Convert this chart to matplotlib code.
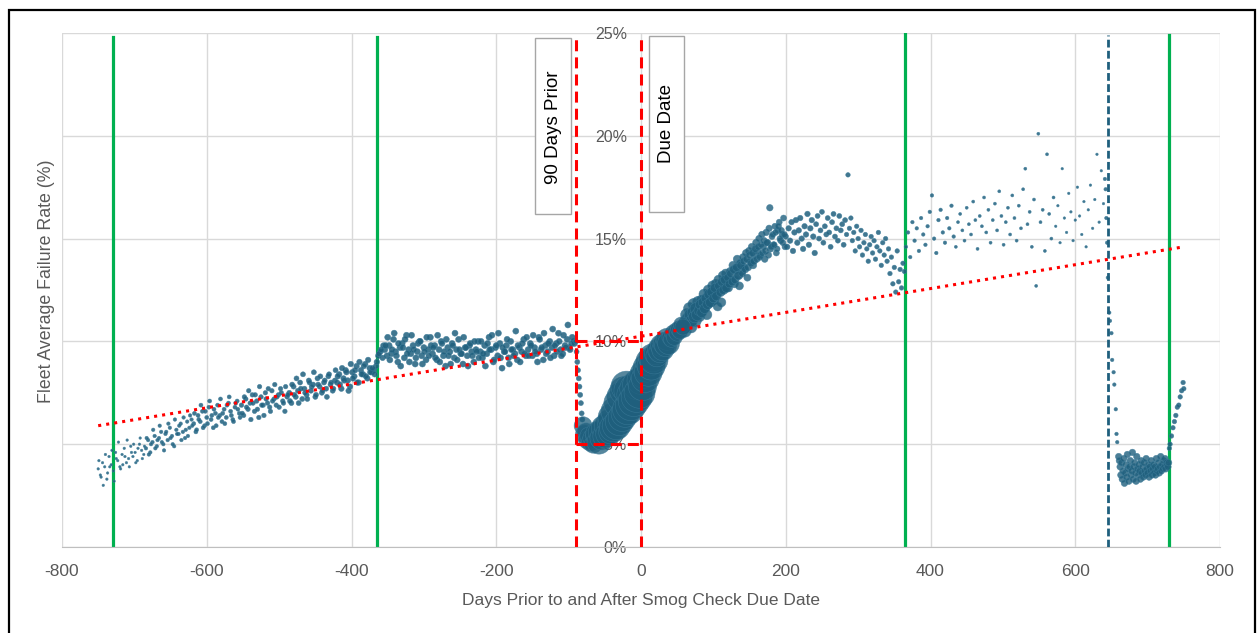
import numpy as np
import matplotlib.pyplot as plt
from matplotlib.patches import Rectangle

plt.rcParams['font.family'] = ['Liberation Sans', 'DejaVu Sans']
plt.rcParams['axes.unicode_minus'] = False

## Dados (dias x taxa de falha %)

## -750 a -93, a cada 3 dias
rate_a = [
    3.8, 3.5, 4.1, 3.9, 3.3, 4.4, 4.0, 3.7, 4.6, 4.2, 3.9, 4.5, 4.8, 4.1, 4.3, 4.9, 4.4, 4.6, 4.2, 5.0, 4.7, 4.5,
    4.8, 5.2, 4.6, 5.1, 5.4, 4.9, 5.3, 5.6, 5.0, 5.5, 5.2, 5.8, 5.4, 4.9, 5.7, 5.5, 6.0, 5.6, 5.3, 6.1, 5.8, 6.2,
    6.0, 5.6, 6.4, 6.1, 6.6, 5.9, 6.3, 6.8, 6.2, 5.8, 6.5, 6.9, 6.4, 6.1, 6.7, 6.3, 7.0, 6.6, 6.2, 6.8, 7.1, 6.5,
    6.9, 6.4, 7.2, 6.7, 7.0, 7.4, 6.6, 7.1, 6.3, 7.3, 6.9, 7.5, 7.0, 6.8, 7.6, 7.2, 6.9, 7.4, 7.7, 7.1, 6.6, 7.3,
    7.5, 7.0, 7.8, 7.3, 7.6, 8.0, 7.2, 7.7, 7.4, 8.1, 7.6, 7.9, 7.3, 8.2, 7.8, 7.5, 8.0, 7.7, 8.3, 7.9, 7.6, 8.1,
    8.0, 8.4, 7.7, 8.2, 8.6, 8.1, 7.8, 8.5, 8.3, 8.8, 8.0, 8.6, 8.4, 8.9, 8.2, 8.7, 8.5, 8.6, 8.8, 9.3, 9.5, 9.2,
    9.6, 9.3, 9.8, 9.4, 10.1, 9.5, 9.0, 9.7, 9.9, 9.2, 10.3, 9.6, 9.4, 9.8, 8.9, 9.5, 10.0, 9.3, 9.7, 9.1, 9.6, 10.2,
    9.4, 9.8, 9.1, 9.6, 10.0, 9.3, 8.8, 9.7, 9.5, 9.9, 9.2, 9.6, 10.1, 9.4, 8.9, 9.7, 9.3, 9.8, 9.5, 9.0, 9.6, 10.0,
    9.5, 9.2, 9.8, 9.4, 10.2, 9.6, 9.0, 9.7, 9.3, 9.9, 8.7, 9.5, 9.8, 9.2, 10.0, 9.6, 9.4, 9.1, 9.7, 9.5, 10.1, 9.3,
    9.6, 9.9, 9.3, 9.7, 9.4, 10.2, 9.6, 9.1, 9.8, 9.5, 10.0, 9.7, 9.3, 9.9, 10.4, 9.6, 9.4, 9.8, 10.1, 9.7, 9.9, 10.0,
]
## -749 a -92, a cada 3 dias (segunda leva de pontos)
rate_a2 = [
    4.2, 3.4, 3.0, 4.5, 3.6, 3.9, 4.7, 3.2, 4.3, 5.1, 3.8, 4.0, 4.4, 5.2, 3.9, 4.6, 5.0, 4.1, 4.8, 5.3, 4.3, 4.9,
    5.3, 4.5, 5.0, 5.7, 4.8, 5.2, 5.9, 5.1, 4.7, 5.6, 6.0, 5.3, 5.0, 6.2, 5.5, 5.9, 5.2, 6.3, 5.7, 5.4, 6.4, 5.9,
    6.5, 5.7, 6.2, 6.9, 5.8, 6.6, 6.0, 7.1, 6.4, 6.7, 5.9, 6.3, 7.2, 6.5, 6.0, 6.9, 7.3, 6.4, 6.1, 7.0, 6.7, 6.3,
    6.5, 7.3, 6.8, 7.6, 6.2, 7.0, 7.4, 6.7, 7.8, 6.9, 6.4, 7.2, 7.7, 6.6, 7.1, 7.9, 7.3, 6.8, 7.5, 7.0, 7.8, 7.4,
    7.1, 7.9, 7.4, 8.2, 7.0, 7.7, 8.4, 7.5, 7.2, 8.0, 7.8, 8.5, 7.4, 7.9, 8.3, 7.6, 8.1, 7.3, 8.4, 8.0, 7.7, 8.6,
    8.3, 7.9, 8.7, 8.1, 8.5, 7.6, 8.9, 8.2, 8.6, 8.0, 9.0, 8.4, 8.8, 8.3, 9.1, 8.5, 8.7, 8.4, 9.0, 9.4, 9.6, 9.8,
    9.8, 10.2, 9.1, 9.6, 10.4, 9.3, 9.9, 8.8, 9.7, 10.1, 9.4, 9.0, 10.3, 9.6, 9.2, 9.9, 10.0, 8.9, 9.5, 10.2, 9.3, 9.8,
    9.7, 9.2, 10.3, 9.0, 9.9, 9.5, 10.1, 9.3, 8.9, 9.8, 10.4, 9.1, 9.6, 9.4, 10.2, 9.7, 8.8, 9.9, 9.3, 10.0, 9.5, 9.2,
    10.0, 9.4, 8.8, 9.9, 9.6, 10.3, 9.1, 9.8, 10.4, 9.2, 9.7, 9.5, 10.1, 8.9, 9.6, 9.3, 10.5, 9.8, 9.0, 9.9, 9.4, 10.2,
    9.3, 9.8, 10.3, 9.5, 9.0, 10.1, 9.7, 10.4, 9.4, 9.9, 9.2, 10.6, 9.8, 9.5, 10.0, 9.3, 10.3, 9.7, 10.8, 9.6, 10.2, 9.9,
]
size_a = [2.5, 3.5, 4, 4.5, 5, 5.5, 6, 6, 6, 6]  ## diametro (px) por bloco

## queda logo depois de -90 (diario)
rate_b = [10.0, 9.5, 9.0, 8.6, 8.2, 7.8, 7.4, 7.0, 6.5, 6.2]
size_b = [5]

## bolhas grandes, -80 a 58 a cada 2 dias
rate_c = [
    5.9, 5.5, 5.6, 5.2, 5.4, 5.1, 5.3, 5.0, 5.4, 5.2,
    5.5, 5.1, 5.6, 5.3, 5.8, 5.4, 5.9, 5.5, 6.1, 5.6,
    6.3, 5.8, 6.6, 5.9, 7.0, 6.1, 7.3, 6.3, 7.6, 6.5,
    7.8, 6.7, 7.6, 6.9, 7.4, 7.1, 7.7, 7.3, 7.9, 7.5,
    8.1, 7.8, 8.4, 8.2, 8.7, 8.5, 9.0, 8.8, 9.2, 9.1,
    9.4, 9.3, 9.6, 9.5, 9.8, 9.6, 9.9, 9.8, 10.1, 9.9,
    10.2, 10.1, 10.4, 10.2, 10.5, 10.4, 10.6, 10.5, 10.8, 10.7,
]
size_c = [18, 24, 28, 31, 28, 22, 16]

## 60 a 198 a cada 2 dias
rate_d = [
    10.9, 10.7, 11.1, 10.9, 11.3, 11.0, 11.4, 11.2, 11.6, 11.3,
    11.5, 11.8, 11.4, 11.9, 11.6, 12.1, 11.8, 12.3, 11.9, 12.4,
    12.1, 12.6, 12.2, 11.7, 12.7, 12.4, 12.9, 12.5, 13.0, 12.6,
    13.1, 12.8, 13.3, 12.9, 13.5, 13.0, 13.6, 13.2, 12.7, 13.7,
    13.3, 13.9, 13.5, 14.0, 13.6, 14.2, 13.8, 14.3, 13.9, 14.5,
    14.0, 14.6, 14.1, 14.7, 14.3, 14.9, 14.4, 14.8, 14.2, 16.5,
    14.6, 15.2, 14.7, 15.3, 14.5, 15.6, 15.0, 15.4, 14.8, 15.2,
]
## 61 a 199 a cada 2 dias
rate_d2 = [
    10.5, 11.3, 10.9, 11.6, 10.7, 11.2, 11.8, 11.0, 11.5, 11.9,
    11.2, 12.0, 11.5, 12.3, 11.7, 11.3, 12.5, 11.9, 12.2, 12.7,
    12.0, 12.8, 12.3, 13.0, 12.5, 11.9, 13.2, 12.6, 13.3, 12.9,
    12.6, 13.4, 13.0, 13.7, 12.8, 13.5, 14.0, 13.2, 13.8, 13.4,
    14.1, 13.6, 14.3, 13.1, 14.4, 13.9, 14.6, 13.7, 14.2, 14.8,
    14.4, 15.0, 14.2, 15.2, 14.6, 14.0, 15.3, 14.8, 15.5, 14.5,
    15.1, 14.7, 15.6, 14.3, 15.4, 15.8, 14.9, 15.2, 16.0, 14.6,
]
size_d = [12, 10, 9, 8, 7, 6.5, 6]

## 200 a 364 a cada 2 dias
rate_e = [
    15.1, 14.6, 15.5, 14.9, 15.8, 14.4, 15.3, 15.9, 14.8, 15.4,
    16.0, 15.0, 14.5, 15.6, 15.2, 16.2, 14.7, 15.5, 15.9, 15.1,
    14.3, 15.7, 16.1, 15.0, 15.4, 16.3, 14.8, 15.6, 15.2, 16.0,
    15.3, 14.6, 15.8, 16.2, 15.1, 15.5, 14.9, 16.1, 15.4, 15.7,
    14.7, 15.9, 15.2, 18.1, 15.5, 16.0, 14.9, 15.3, 14.4, 15.6,
    15.0, 14.6, 15.4, 14.2, 14.8, 15.2, 14.5, 13.9, 14.7, 15.1,
    14.3, 14.9, 14.0, 14.6, 15.3, 14.4, 13.7, 14.8, 14.2, 15.0,
    13.9, 14.5, 13.3, 14.1, 12.8, 13.6, 12.4, 14.4, 12.9, 13.5,
    12.6, 13.8, 13.4,
]
size_e = [5.5, 5, 4.5, 4.5]

## 366 a 639 a cada 3 dias
rate_f = [
    14.6, 15.3, 14.1, 15.8, 14.9, 15.5, 14.4, 16.0, 15.2, 14.7,
    15.6, 16.3, 17.1, 15.0, 14.3, 15.9, 16.4, 15.3, 14.8, 16.0,
    15.5, 16.6, 15.1, 14.6, 15.8, 16.2, 15.4, 14.9, 16.5, 15.7,
    15.2, 16.8, 15.9, 14.5, 16.1, 15.6, 17.0, 15.3, 16.4, 14.8,
    15.9, 16.7, 15.4, 17.3, 16.1, 14.7, 15.8, 16.5, 15.2, 17.1,
    16.0, 14.9, 16.6, 15.5, 17.4, 18.4, 15.7, 16.3, 14.6, 16.9,
    12.7, 20.1, 15.8, 16.4, 14.4, 19.1, 16.2, 15.0, 17.0, 15.6,
    16.6, 14.8, 18.4, 16.0, 15.3, 17.2, 16.3, 14.9, 15.9, 17.5,
    16.1, 15.2, 16.8, 14.6, 16.4, 17.6, 15.5, 16.9, 19.1, 15.8,
    18.3, 16.7,
]
size_f = [3.5, 3, 3, 2.5]

## queda depois de 645
days_g = [641, 642, 643, 644, 645, 647, 648, 650, 651, 653, 654, 656, 657, 658]
rate_g = [17.9, 17.4, 16.0, 14.8, 13.1, 11.4, 11.0, 10.4, 9.1, 8.5, 7.9, 6.7, 5.5, 5.1]
size_g = [3.5]

## 660 a 729 diario
rate_h = [
    4.4, 4.2, 3.9, 3.5, 4.1, 3.3, 3.7, 4.3, 3.1, 3.6,
    4.0, 3.4, 4.5, 3.8, 3.2, 3.9, 4.2, 3.5, 3.7, 4.6,
    3.3, 3.9, 4.1, 3.6, 3.2, 4.4, 3.8, 3.5, 4.0, 3.7,
    3.3, 4.2, 3.6, 3.9, 3.4, 4.1, 3.7, 3.5, 4.3, 3.8,
    3.6, 4.0, 3.4, 3.9, 3.7, 4.2, 3.5, 3.8, 4.0, 3.6,
    3.9, 3.5, 4.3, 3.7, 3.8, 4.1, 3.6, 3.9, 4.4, 3.7,
    4.0, 3.8, 4.2, 3.9, 4.3, 3.8, 4.1, 4.0, 3.9, 4.1,
]
size_h = [6.5]

## subida final
days_i = [730, 731, 733, 735, 737, 739, 741, 743, 745, 747, 749, 750]
rate_i = [4.8, 5.0, 5.4, 5.8, 6.1, 6.4, 6.8, 6.9, 7.3, 7.6, 8.0, 7.7]
size_i = [4.5]

## linha de tendencia
trend_days = [-750, 750]
trend_rate = [5.9, 14.6]

green_days = [-730, -365, 365, 730]
green_top = [24.8, 24.8, 25, 24.9]
cor = '#1f5f7d'


def expande(sizes, n):
    ## repete cada tamanho por um bloco de pontos
    per = int(np.ceil(n / len(sizes)))
    d = np.repeat(sizes, per)[:n]
    return (d * 0.72) ** 2


fig = plt.figure(figsize=(12.57, 6.33), dpi=100)
ax = fig.add_axes([62 / 1257, 86 / 633, 1158 / 1257, 514 / 633])

## linhas verdes (anos)
for g, t in zip(green_days, green_top):
    ax.plot([g, g], [0, t], color='#00b050', lw=2.3, zorder=2)

series = [
    (np.arange(-750, -750 + 3 * len(rate_a), 3), rate_a, size_a, 0.85),
    (np.arange(-749, -749 + 3 * len(rate_a2), 3), rate_a2, size_a, 0.85),
    (np.arange(-90, -90 + len(rate_b)), rate_b, size_b, 0.85),
    (np.arange(660, 660 + len(rate_h)), rate_h, size_h, 0.8),
    (np.array(days_i), rate_i, size_i, 0.85),
    (np.array(days_g), rate_g, size_g, 0.85),
    (np.arange(366, 366 + 3 * len(rate_f), 3), rate_f, size_f, 0.85),
    (np.arange(200, 200 + 2 * len(rate_e), 2), rate_e, size_e, 0.85),
    (np.arange(61, 61 + 2 * len(rate_d2), 2), rate_d2, size_d, 0.8),
    (np.arange(60, 60 + 2 * len(rate_d), 2), rate_d, size_d, 0.8),
    (np.arange(-80, -80 + 2 * len(rate_c), 2), rate_c, size_c, 0.75),
]
for dias, taxa, tam, al in series:
    ax.scatter(dias, taxa, s=expande(tam, len(taxa)), color=cor, alpha=al,
               edgecolors='#3d7c9a', linewidths=0.4, zorder=3)

## tendencia
ax.plot(trend_days, trend_rate, color='#ff0000', lw=2.2, ls=':', zorder=5)

## linhas tracejadas
tracejado = (0, (3.6, 2.0))
ax.plot([-90, -90], [0, 24.75], color='#ff0000', lw=2.2, ls=tracejado, zorder=6)
ax.plot([0, 0], [0, 24.9], color='#ff0000', lw=2.2, ls=tracejado, zorder=6)
ax.plot([-90, 0], [10, 10], color='#ff0000', lw=2.2, ls=tracejado, zorder=6)
ax.plot([-90, 0], [5, 5], color='#ff0000', lw=2.2, ls=tracejado, zorder=6)
ax.plot([645, 645], [0, 24.9], color=cor, lw=2.0, ls=(0, (2.8, 1.2)), zorder=6)

## caixas de texto
ax.add_patch(Rectangle((-146.4, 16.2), 49.7, 8.56, facecolor='white', edgecolor='#a6a6a6', lw=1, zorder=7))
ax.text(-121.5, 20.4, '90 Days Prior', rotation=90, ha='center', va='center', fontsize=13.5, zorder=8)
ax.add_patch(Rectangle((11, 16.3), 48.4, 8.55, facecolor='white', edgecolor='#a6a6a6', lw=1, zorder=7))
ax.text(35.2, 20.6, 'Due Date', rotation=90, ha='center', va='center', fontsize=13.5, zorder=8)

## eixos
ax.set_xlim(-800, 800)
ax.set_ylim(0, 25)
ax.set_xticks(np.arange(-800, 801, 200))
ax.set_yticks(np.arange(0, 26, 5))
ax.set_yticklabels([f'{v}%' for v in range(0, 26, 5)])
ax.grid(True, color='#d9d9d9', lw=1)
ax.set_axisbelow(True)
for s in ['top', 'right', 'left']:
    ax.spines[s].set_visible(False)
ax.spines['bottom'].set_color('#bfbfbf')
ax.spines['left'].set_position(('data', 0))
ax.tick_params(axis='y', length=0, pad=10, labelsize=11.5, labelcolor='#595959')
ax.tick_params(axis='x', length=0, pad=12, labelsize=12.5, labelcolor='#595959')
ax.set_xlabel('Days Prior to and After Smog Check Due Date', fontsize=12.5, color='#595959', labelpad=10)
fig.text(47 / 1257, 0.555, 'Fleet Average Failure Rate (%)', rotation=90, ha='center', va='center',
         fontsize=12.8, color='#595959')

## moldura
fig.patches.append(Rectangle((9 / 1257, -0.05), 1246 / 1257, 1.034, transform=fig.transFigure,
                             fill=False, edgecolor='black', lw=1.6))

plt.savefig('out.png', dpi=100)
